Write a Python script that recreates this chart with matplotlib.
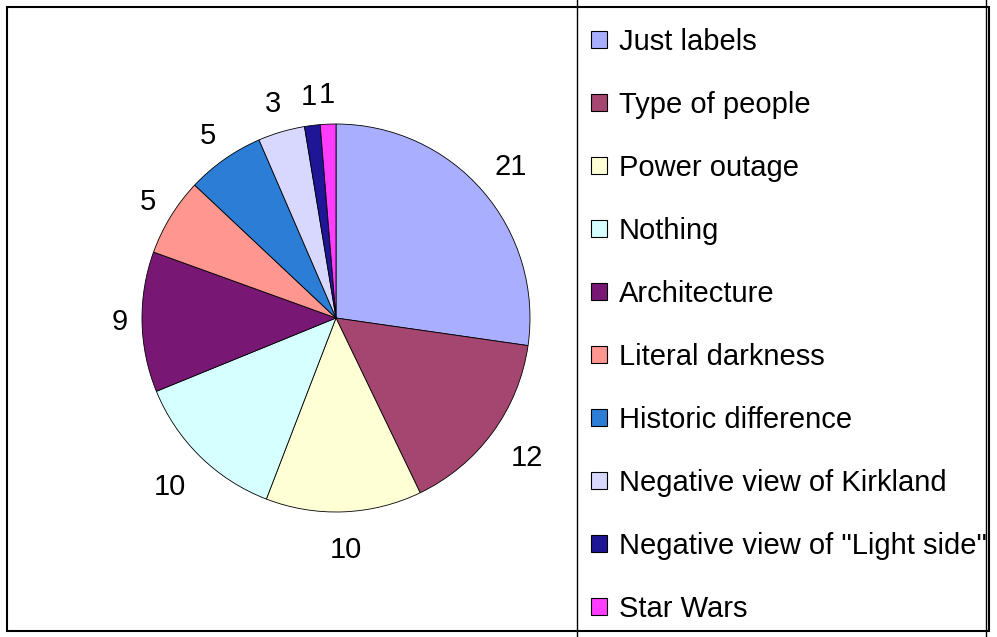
import numpy as np
import matplotlib.pyplot as plt
from matplotlib.patches import Rectangle

plt.rcParams['font.family'] = ['Liberation Sans', 'DejaVu Sans']

# data
labels = ['Just labels', 'Type of people', 'Power outage', 'Nothing', 'Architecture',
          'Literal darkness', 'Historic difference', 'Negative view of Kirkland',
          'Negative view of "Light side"', 'Star Wars']
values = [21, 12, 10, 10, 9, 5, 5, 3, 1, 1]
colors = ['#aaaeff', '#a4466f', '#ffffd6', '#d6ffff', '#781874',
          '#ff968f', '#2b7dd5', '#d8d8ff', '#1e1696', '#ff3cff']

W, H = 997, 637
fig = plt.figure(figsize=(W / 100, H / 100), dpi=100)

# pie centre and radius in pixels
cx, cy, R = 336, 318, 194
S = 300
ax = fig.add_axes([(cx - S) / W, (H - cy - S) / H, 2 * S / W, 2 * S / H])

wedges, _ = ax.pie(values, colors=colors, startangle=90, counterclock=False,
                   radius=1, wedgeprops=dict(edgecolor='black', linewidth=0.6))
lim = S / R
ax.set_xlim(-lim, lim)
ax.set_ylim(-lim, lim)
ax.set_aspect('equal')
ax.axis('off')

# value labels around the pie
fig.canvas.draw()
renderer = fig.canvas.get_renderer()
px = 1.0 / R  # one pixel in data units
for w, v in zip(wedges, values):
    ang = np.deg2rad((w.theta1 + w.theta2) / 2)
    c, s = np.cos(ang), np.sin(ang)
    t = ax.text(0, 0, str(v), fontsize=21, ha='center', va='center')
    bb = t.get_window_extent(renderer)
    hw, hh = bb.width / 2 * px, bb.height / 2 * px
    if c < 0 and len(str(v)) == 1:
        hw *= 0.5
    d = 1.09 + hw * abs(c) + hh * abs(s) * (0.8 if s > 0 else 1.4)
    t.set_position((d * c, d * s))

# legend
leg = fig.legend(wedges, labels, loc='upper left',
                 bbox_to_anchor=(591 / W, 1 - 28 / H),
                 frameon=False, fontsize=21, labelspacing=1.2,
                 handlelength=0.55, handleheight=0.55, handletextpad=0.4,
                 borderpad=0, borderaxespad=0)
for h in leg.legend_handles:
    h.set_linewidth(0.8)
    h.set_edgecolor('black')

# legend box and outer frame
fig.patches.append(Rectangle((577 / W, -0.02), (986 - 577) / W, 1.04,
                             transform=fig.transFigure, fill=False,
                             edgecolor='black', linewidth=1.0))
fig.patches.append(Rectangle((7 / W, (H - 631) / H), (989 - 7) / W, (631 - 7) / H,
                             transform=fig.transFigure, fill=False,
                             edgecolor='black', linewidth=1.5))

fig.savefig('out.png', dpi=100, facecolor='white')
